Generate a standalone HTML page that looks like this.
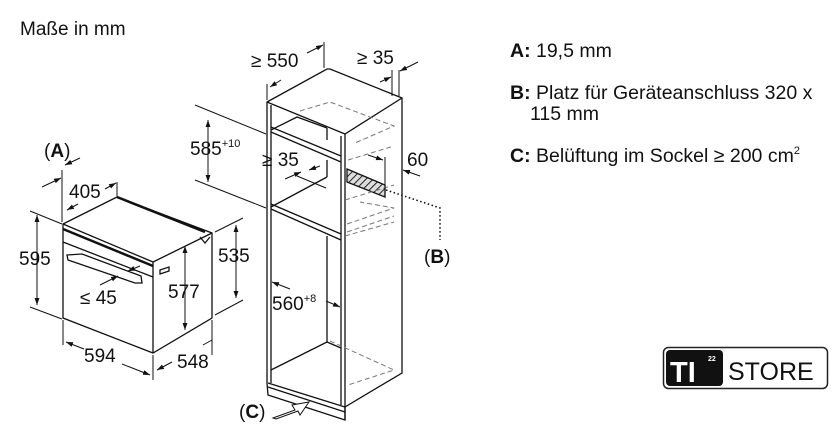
<!DOCTYPE html>
<html><head><meta charset="utf-8"><style>
html,body{margin:0;padding:0;background:#fff;}
svg{display:block;font-family:"Liberation Sans",sans-serif;}
</style></head><body>
<svg width="840" height="442" viewBox="0 0 840 442" xmlns="http://www.w3.org/2000/svg">
<defs>
<marker id="ar" viewBox="0 0 10 10" refX="10" refY="5" markerWidth="7" markerHeight="7" orient="auto-start-reverse"><path d="M0,1.5 L10,5 L0,8.5z" fill="#111"/></marker>
<pattern id="hatch" width="5" height="5" patternUnits="userSpaceOnUse" patternTransform="rotate(45)"><rect width="5" height="5" fill="#ddd"/><line x1="0" y1="0" x2="0" y2="5" stroke="#222" stroke-width="2"/></pattern>
</defs>
<g fill="#111">
<text x="20" y="35" font-size="19">Maße in mm</text>
<text x="510" y="57" font-size="19.5"><tspan font-weight="bold">A:</tspan> 19,5 mm</text>
<text x="510" y="99" font-size="19.5"><tspan font-weight="bold">B:</tspan> Platz für Geräteanschluss 320 x</text>
<text x="530" y="120" font-size="19.5">115 mm</text>
<text x="510" y="162" font-size="19.5"><tspan font-weight="bold">C:</tspan> Belüftung im Sockel ≥ 200 cm<tspan font-size="11" dy="-8">2</tspan></text>
</g>
<!-- OVEN -->
<g stroke="#111" stroke-width="1.3" fill="#fff">
<polygon points="63,224 117,197 212,233 212,318 153,353 63,318"/>
<polyline points="63,224 153,262 212,233" fill="none"/>
<line x1="153" y1="262" x2="153" y2="353"/>
<polyline points="63,229 153,266" fill="none" stroke-width="2.5"/>
<line x1="63" y1="242" x2="153" y2="277"/>
<polygon points="67,255 82,254 141,276 142,283 135,283 68,260"/>
<line x1="117" y1="197" x2="205" y2="232" stroke-width="2.5"/>
<path d="M200,237 l5,6 l5,-6" fill="none"/>
<path d="M160,270 l9,-3 l0,4 l-9,3z"/>
</g>
<g stroke="#111" stroke-width="1" fill="none">
<line x1="30" y1="211" x2="62" y2="224"/><line x1="30" y1="307" x2="62" y2="319"/>
<line x1="37" y1="215" x2="37" y2="305" marker-start="url(#ar)" marker-end="url(#ar)"/>
<line x1="215" y1="232" x2="243" y2="218"/><line x1="215" y1="315" x2="243" y2="300"/>
<line x1="236" y1="225" x2="236" y2="298" marker-start="url(#ar)" marker-end="url(#ar)"/>
<line x1="185" y1="246" x2="185" y2="330" marker-start="url(#ar)" marker-end="url(#ar)"/>
<line x1="63" y1="320" x2="63" y2="345"/><line x1="153" y1="355" x2="153" y2="380"/><line x1="212" y1="320" x2="212" y2="355"/>
<line x1="66" y1="342" x2="84" y2="349" marker-start="url(#ar)"/><line x1="122" y1="364" x2="150" y2="375" marker-end="url(#ar)"/>
<line x1="157" y1="370" x2="172" y2="362" marker-start="url(#ar)"/><line x1="203" y1="345" x2="212" y2="340"/>
<line x1="62" y1="170" x2="62" y2="222"/><line x1="117" y1="182" x2="117" y2="196"/>
<line x1="67" y1="210" x2="78" y2="204" marker-start="url(#ar)"/><line x1="105" y1="189" x2="116" y2="183" marker-end="url(#ar)"/>
<line x1="42" y1="187" x2="61" y2="178" marker-end="url(#ar)"/><line x1="80" y1="158" x2="65" y2="165" marker-end="url(#ar)"/>
<line x1="100" y1="285" x2="118" y2="276" marker-end="url(#ar)"/><line x1="140" y1="266" x2="128" y2="271" marker-end="url(#ar)"/>
</g>
<g fill="#111" font-size="19">
<text x="44" y="157">(<tspan font-weight="bold">A</tspan>)</text>
<text x="69" y="198">405</text>
<text x="19" y="265">595</text>
<text x="218" y="262">535</text>
<text x="168" y="298">577</text>
<text x="80" y="304">≤ 45</text>
<text x="84" y="362">594</text>
<text x="177" y="368">548</text>
</g>
<!-- CABINET -->
<g stroke="#111" stroke-width="1.3" fill="#fff">
<polygon points="267,102 327,69 330,69 402,98 402,373 345,407 345,420 268,395 267,383"/>
<polyline points="267,102 345,134 402,98" fill="none"/>
<line x1="345" y1="134" x2="345" y2="420"/>
<line x1="271" y1="105" x2="271" y2="383"/><line x1="341" y1="136" x2="341" y2="405"/>
<line x1="268" y1="383" x2="345" y2="407"/><line x1="268" y1="387" x2="345" y2="412"/>
<polyline points="271,127 341,156" fill="none"/><polyline points="271,132 341,162" fill="none"/>
<polyline points="271,130 297,117 327,128" fill="none"/>
<polyline points="271,204 341,234" fill="none"/><polyline points="271,209 341,240" fill="none"/>
<polyline points="271,207 327,177" fill="none"/>
<polyline points="271,370 327,342 341,348" fill="none"/>
<line x1="327" y1="128" x2="327" y2="140"/><line x1="327" y1="160" x2="327" y2="177"/><line x1="327" y1="236" x2="327" y2="342"/>
<polygon points="347,169 385,185 385,197 347,182" fill="url(#hatch)"/>
</g>
<g stroke="#777" stroke-width="1" stroke-dasharray="5,3" fill="none">
<polyline points="300,111 330,102 394,126 355,143"/>
<polyline points="348,160 394,146"/>
<polyline points="345,200 394,185"/>
<polyline points="347,224 394,208 360,202"/>
<polyline points="347,232 394,216"/>
<polyline points="345,236 394,222"/>
<polyline points="330,341 394,370 348,385"/>
</g>
<g stroke="#111" stroke-width="1" fill="none">
<line x1="267" y1="84" x2="267" y2="100"/><line x1="324" y1="42" x2="324" y2="68"/>
<line x1="270" y1="87" x2="281" y2="80" marker-start="url(#ar)"/><line x1="307" y1="53" x2="323" y2="45" marker-end="url(#ar)"/>
<line x1="392" y1="70" x2="392" y2="96"/><line x1="399" y1="70" x2="399" y2="96"/>
<line x1="380" y1="82" x2="391" y2="77" marker-end="url(#ar)"/><line x1="418" y1="62" x2="400" y2="71" marker-end="url(#ar)"/>
<line x1="195" y1="105" x2="266" y2="134"/><line x1="195" y1="180" x2="266" y2="208"/>
<line x1="208" y1="120" x2="208" y2="182" marker-start="url(#ar)" marker-end="url(#ar)"/>
<line x1="285" y1="179" x2="301" y2="172" marker-end="url(#ar)"/><line x1="320" y1="166" x2="309" y2="170" marker-end="url(#ar)"/>
<line x1="297" y1="176" x2="326" y2="188"/>
<line x1="368" y1="155" x2="383" y2="160" marker-end="url(#ar)"/><line x1="385" y1="157" x2="385" y2="193"/>
<line x1="420" y1="176" x2="403" y2="170" marker-end="url(#ar)"/>
<line x1="272" y1="282" x2="290" y2="289" marker-start="url(#ar)"/><line x1="326" y1="301" x2="340" y2="307" marker-end="url(#ar)"/>
<polyline points="386,190 440,208 440,240" stroke-dasharray="1.5,2.5" stroke-width="1.6"/>
<path d="M273,418 l22,-8 l-3,-5 l17,-3 l-9,13 l-2,-4 l-22,8z" fill="#fff"/>
</g>
<g fill="#111" font-size="19">
<text x="251" y="67">≥ 550</text>
<text x="357" y="64">≥ 35</text>
<text x="190" y="155">585<tspan font-size="11" dy="-8">+10</tspan></text>
<text x="262" y="166">≥ 35</text>
<text x="407" y="166">60</text>
<text x="424" y="263">(<tspan font-weight="bold">B</tspan>)</text>
<text x="272" y="310">560<tspan font-size="11" dy="-8">+8</tspan></text>
<text x="239" y="418">(<tspan font-weight="bold">C</tspan>)</text>
</g>
<!-- LOGO -->
<rect x="663.5" y="347.5" width="164" height="41" rx="5" fill="#fff" stroke="#222" stroke-width="1.5"/>
<rect x="666" y="350" width="57" height="36" rx="4" fill="#111"/>
<text x="670" y="382" font-size="29" font-weight="bold" fill="#fff">TI</text>
<text x="708" y="361" font-size="7" font-weight="bold" fill="#fff">22</text>
<text x="728" y="380" font-size="25" fill="#111">STORE</text>
</svg>
</body></html>
